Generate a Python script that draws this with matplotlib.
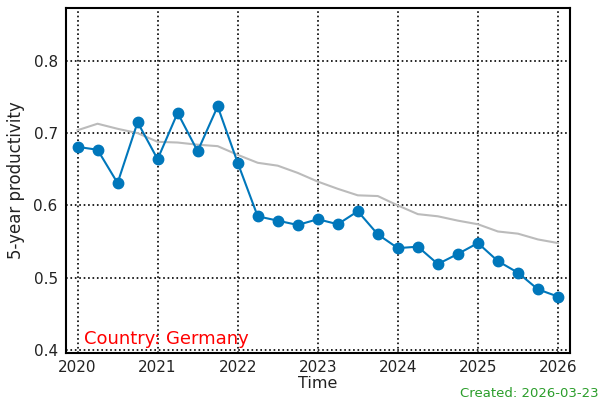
import matplotlib
matplotlib.use("Agg")
import matplotlib.pyplot as plt

# quarterly time points 2020 .. 2026
time = [2020 + 0.25 * i for i in range(25)]

productivity = [0.681, 0.677, 0.631, 0.715, 0.664, 0.728, 0.675, 0.737, 0.659,
                0.585, 0.579, 0.573, 0.581, 0.574, 0.592, 0.560, 0.541, 0.543,
                0.519, 0.533, 0.548, 0.523, 0.507, 0.484, 0.474]

trend = [0.704, 0.713, 0.706, 0.700, 0.688, 0.687, 0.684, 0.682, 0.670,
         0.659, 0.655, 0.645, 0.633, 0.623, 0.614, 0.613, 0.600, 0.588,
         0.585, 0.579, 0.574, 0.564, 0.561, 0.553, 0.548]

x_ticks = [2020, 2021, 2022, 2023, 2024, 2025, 2026]
y_ticks = [0.4, 0.5, 0.6, 0.7, 0.8]

fig = plt.figure(figsize=(6, 4), dpi=100)
ax = fig.add_axes([0.11, 0.1175, 0.84, 0.8625])

ax.plot(time, trend, color="#bbbbbb", linewidth=1.5, zorder=2)
ax.plot(time, productivity, color="#0077bb", linewidth=1.5, marker="o",
        markersize=7.5, zorder=3)

ax.set_xlim(2019.856, 2026.15)
ax.set_ylim(0.396, 0.873)
ax.set_xticks(x_ticks)
ax.set_yticks(y_ticks)
ax.set_yticklabels([f"{v:.1f}" for v in y_ticks])
ax.tick_params(length=0, labelsize=11, pad=5, labelcolor="#222222")
ax.tick_params(axis="y", pad=6)
ax.grid(True, color="black", linestyle=":", linewidth=1.2)
for s in ax.spines.values():
    s.set_linewidth(1.5)

ax.set_xlabel("Time", fontsize=11.5, labelpad=1, color="#222222")
ax.set_ylabel("5-year productivity", fontsize=12, labelpad=6, color="#222222")

ax.text(0.036, 0.015, "Country: Germany", transform=ax.transAxes,
        color="red", fontsize=13, ha="left", va="bottom")
fig.text(0.997, 0.0, "Created: 2026-03-23", color="#2a9d2a", fontsize=9.5,
         ha="right", va="bottom")

fig.savefig("out.png", dpi=100)
